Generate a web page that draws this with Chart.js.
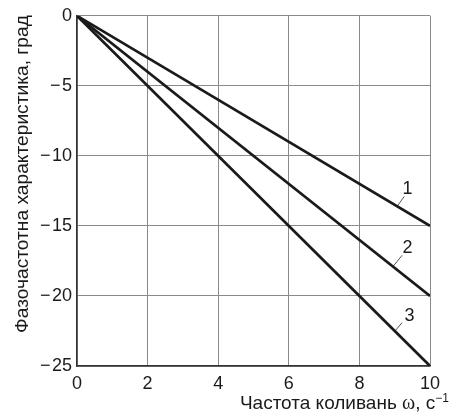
<!DOCTYPE html>
<html>
<head>
<meta charset="utf-8">
<script src="https://cdn.jsdelivr.net/npm/chart.js@4.4.1/dist/chart.umd.min.js"></script>
<style>
  html, body { margin: 0; padding: 0; background: #fff; }
  #wrap { width: 449px; height: 416px; }
</style>
</head>
<body>
<div id="wrap"><canvas id="phaseChart"></canvas></div>
<script>
// frequency, s^-1
const freq = [0, 10];
// phase response, degrees
const curve1 = [0, -15];
const curve2 = [0, -20];
const curve3 = [0, -25];
const curveLabels = ["1", "2", "3"];
// leader lines: [x0, y0, x1, y1] and label anchor
const leaders = [
  [9.07, -13.6, 9.27, -12.9],
  [8.95, -17.9, 9.21, -17.1],
  [9.01, -22.5, 9.21, -21.9]
];
const labelPos = [[9.36, -12.4], [9.36, -16.6], [9.42, -21.4]];
const xTitleParts = ["Частота коливань ", "ω", ", с", "\u22121"];
const yTitle = "Фазочастотна характеристика, град";

document.addEventListener("DOMContentLoaded", function () {
  const ink = "#1a1a1a";
  const font = "'Liberation Sans', Arial, sans-serif";
  const serif = "'Liberation Serif', 'Times New Roman', serif";

  function pts(ys) {
    return freq.map((x, i) => ({ x: x, y: ys[i] }));
  }

  const lineSets = [curve1, curve2, curve3].map((ys) => ({
    data: pts(ys),
    borderColor: ink,
    borderWidth: 2.7,
    pointRadius: 0,
    tension: 0,
  }));

  const leaderSets = leaders.map((l) => ({
    data: [{ x: l[0], y: l[1] }, { x: l[2], y: l[3] }],
    borderColor: "#555",
    borderWidth: 1,
    pointRadius: 0,
  }));

  // curve numbers and axis titles
  const extraText = {
    id: "extraText",
    afterDatasetsDraw(chart) {
      const ctx = chart.ctx;
      const xs = chart.scales.x, ys = chart.scales.y;
      ctx.save();
      ctx.fillStyle = ink;
      ctx.font = "18px " + font;
      ctx.textAlign = "center";
      ctx.textBaseline = "middle";
      labelPos.forEach((p, i) => {
        ctx.fillText(curveLabels[i], xs.getPixelForValue(p[0]), ys.getPixelForValue(p[1]));
      });

      // x title: sans text, serif omega, superscript
      const fonts = ["19px " + font, "20px " + serif, "19px " + font, "12px " + font];
      const dy = [0, 0, 0, -7];
      ctx.textAlign = "left";
      ctx.textBaseline = "alphabetic";
      let widths = xTitleParts.map((t, i) => { ctx.font = fonts[i]; return ctx.measureText(t).width; });
      let x = chart.width - widths.reduce((a, b) => a + b, 0);
      xTitleParts.forEach((t, i) => {
        ctx.font = fonts[i];
        ctx.fillText(t, x, 409 + dy[i]);
        x += widths[i];
      });

      ctx.font = "19.2px " + font;
      ctx.textBaseline = "middle";
      ctx.translate(23, 174);
      ctx.rotate(-Math.PI / 2);
      ctx.textAlign = "center";
      ctx.fillText(yTitle, 0, 0);
      ctx.restore();
    },
  };

  new Chart(document.getElementById("phaseChart"), {
    type: "line",
    data: { datasets: lineSets.concat(leaderSets) },
    options: {
      responsive: true,
      maintainAspectRatio: false,
      animation: false,
      events: [],
      layout: { padding: { top: 6, right: 19, left: 0, bottom: 0 } },
      plugins: { legend: { display: false }, tooltip: { enabled: false } },
      scales: {
        x: {
          type: "linear",
          min: 0,
          max: 10,
          ticks: { stepSize: 2, color: ink, font: { family: font, size: 18 }, padding: 7 },
          grid: { color: "#8a8a8a", lineWidth: 1, drawTicks: false },
          border: { color: "#333", width: 1.5 },
          afterFit(scale) { scale.height = 50; },
        },
        y: {
          min: -25,
          max: 0,
          ticks: {
            stepSize: 5,
            color: ink,
            font: { family: font, size: 18 },
            padding: 5,
            callback: (v) => String(v).replace("-", "\u2212\u200a"),
          },
          grid: { color: "#8a8a8a", lineWidth: 1, drawTicks: false },
          border: { color: "#333", width: 1.5 },
          afterFit(scale) { scale.width = 77; },
        },
      },
    },
    plugins: [extraText],
  });
});
</script>
</body>
</html>
